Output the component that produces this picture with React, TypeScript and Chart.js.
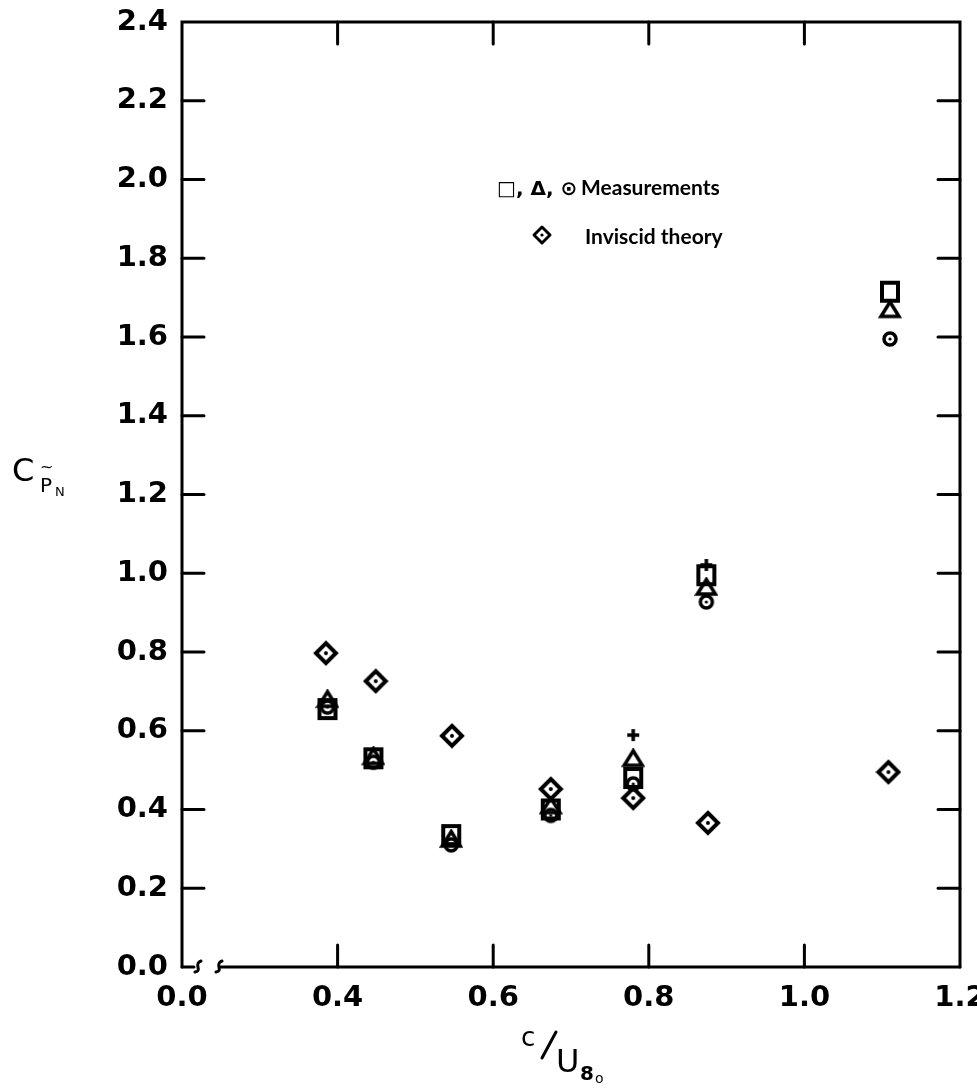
import React, { useEffect, useRef } from "react";
import { Chart, registerables } from "chart.js";
Chart.register(...registerables);

// ---- data ----
const xTickValues = [0.2, 0.4, 0.6, 0.8, 1.0, 1.2];
const xTickLabels = ["0.0", "0.4", "0.6", "0.8", "1.0", "1.2"];
const yTickValues = [0, 0.2, 0.4, 0.6, 0.8, 1.0, 1.2, 1.4, 1.6, 1.8, 2.0, 2.2, 2.4];
const yTickLabels = ["0.0", "0.2", "0.4", "0.6", "0.8", "1.0", "1.2", "1.4", "1.6", "1.8", "2.0", "2.2", "2.4"];

const measX = [0.387, 0.446, 0.546, 0.674, 0.78, 0.874, 1.11];
const squareY = [0.655, 0.53, 0.335, 0.4, 0.48, 0.995, 1.715];
const triangleY = [0.68, 0.535, 0.325, 0.41, 0.53, 0.965, 1.67];
const circleY = [0.66, 0.52, 0.31, 0.385, 0.465, 0.927, 1.595];

const inviscidX = [0.385, 0.449, 0.547, 0.674, 0.78, 0.876, 1.108];
const inviscidY = [0.797, 0.726, 0.587, 0.452, 0.429, 0.366, 0.495];

const plusX = [0.78, 0.874];
const plusY = [0.589, 1.021];

const legendMeasSymbols = "□, Δ, ⊙";
const legendMeas = "Measurements";
const legendInv = "Inviscid theory";

function makeMarker(kind: string): HTMLCanvasElement {
  const c = document.createElement("canvas");
  const ctx = c.getContext("2d")!;
  ctx.strokeStyle = "#000";
  ctx.fillStyle = "#000";
  ctx.lineJoin = "round";
  if (kind === "square") {
    c.width = 22; c.height = 24;
    ctx.lineWidth = 4;
    ctx.strokeRect(3, 3, 16, 18);
  } else if (kind === "triangle") {
    c.width = 24; c.height = 20;
    ctx.lineWidth = 3.5;
    ctx.beginPath();
    ctx.moveTo(12, 2.5); ctx.lineTo(21, 17); ctx.lineTo(3, 17); ctx.closePath();
    ctx.stroke();
  } else if (kind === "circle") {
    c.width = 18; c.height = 18;
    ctx.lineWidth = 3.5;
    ctx.beginPath(); ctx.arc(9, 9, 6, 0, Math.PI * 2); ctx.stroke();
    ctx.beginPath(); ctx.arc(9, 9, 1.6, 0, Math.PI * 2); ctx.fill();
  } else if (kind === "diamond") {
    c.width = 26; c.height = 26;
    ctx.lineWidth = 4;
    ctx.beginPath();
    ctx.moveTo(13, 3); ctx.lineTo(23, 13); ctx.lineTo(13, 23); ctx.lineTo(3, 13); ctx.closePath();
    ctx.stroke();
    ctx.beginPath(); ctx.arc(13, 13, 2, 0, Math.PI * 2); ctx.fill();
  } else if (kind === "plus") {
    c.width = 14; c.height = 14;
    ctx.lineWidth = 3.5;
    ctx.beginPath();
    ctx.moveTo(7, 1); ctx.lineTo(7, 13);
    ctx.moveTo(1, 7); ctx.lineTo(13, 7);
    ctx.stroke();
  }
  return c;
}

const framePlugin = {
  id: "frame",
  afterDatasetsDraw(chart: any) {
    const { ctx, chartArea } = chart;
    const { left, right, top, bottom } = chartArea;
    const xs = chart.scales.x;
    const ys = chart.scales.y;
    ctx.save();
    ctx.strokeStyle = "#000";
    ctx.lineWidth = 3;
    ctx.lineCap = "round";
    // top, right, left
    ctx.beginPath();
    ctx.moveTo(left, bottom);
    ctx.lineTo(left, top);
    ctx.lineTo(right, top);
    ctx.lineTo(right, bottom);
    ctx.stroke();
    // bottom with axis break
    ctx.beginPath();
    ctx.moveTo(left, bottom);
    ctx.lineTo(left + 12, bottom);
    ctx.stroke();
    const squig = (x: number) => {
      ctx.beginPath();
      ctx.moveTo(x, bottom + 5);
      ctx.bezierCurveTo(x + 8, bottom + 4, x - 2, bottom - 3, x + 6, bottom - 6);
      ctx.stroke();
    };
    squig(left + 13);
    squig(left + 34);
    ctx.beginPath();
    ctx.moveTo(left + 38, bottom);
    ctx.lineTo(right, bottom);
    ctx.stroke();
    // ticks
    const tl = 22;
    for (const v of yTickValues) {
      if (v === yTickValues[0] || v === yTickValues[yTickValues.length - 1]) continue;
      const py = ys.getPixelForValue(v);
      ctx.beginPath();
      ctx.moveTo(left, py); ctx.lineTo(left + tl, py);
      ctx.moveTo(right, py); ctx.lineTo(right - tl, py);
      ctx.stroke();
    }
    for (const v of xTickValues) {
      if (v === xTickValues[0] || v === xTickValues[xTickValues.length - 1]) continue;
      const px = xs.getPixelForValue(v);
      ctx.beginPath();
      ctx.moveTo(px, bottom); ctx.lineTo(px, bottom - tl);
      ctx.moveTo(px, top); ctx.lineTo(px, top + tl);
      ctx.stroke();
    }
    // legend
    ctx.fillStyle = "#000";
    ctx.textBaseline = "alphabetic";
    ctx.font = "bold 20px 'DejaVu Sans'";
    ctx.fillText(legendMeasSymbols, 497, 195);
    ctx.font = "bold 21px Lato";
    ctx.fillText(legendMeas, 581, 195);
    ctx.font = "bold 21px Lato";
    ctx.fillText(legendInv, 585, 244);
    // legend diamond
    ctx.lineWidth = 3;
    ctx.lineJoin = "round";
    ctx.beginPath();
    ctx.moveTo(542, 227); ctx.lineTo(550, 235); ctx.lineTo(542, 243); ctx.lineTo(534, 235); ctx.closePath();
    ctx.stroke();
    ctx.beginPath(); ctx.arc(542, 235, 1.6, 0, Math.PI * 2); ctx.fill();

    // y title: C with subscript P~N
    ctx.font = "32px 'DejaVu Sans'";
    ctx.fillText("C", 12, 481);
    ctx.font = "20px 'DejaVu Sans'";
    ctx.fillText("P", 40, 492);
    ctx.font = "16px 'DejaVu Sans'";
    ctx.fillText("~", 40, 472);
    ctx.font = "13px 'DejaVu Sans'";
    ctx.fillText("N", 55, 496);

    // x title: c/U 8o
    ctx.font = "26px 'DejaVu Sans'";
    ctx.fillText("c", 521, 1046);
    ctx.lineWidth = 3;
    ctx.beginPath(); ctx.moveTo(542, 1058); ctx.lineTo(556, 1032); ctx.stroke();
    ctx.font = "32px 'DejaVu Sans'";
    ctx.fillText("U", 556, 1072);
    ctx.font = "bold 20px 'DejaVu Sans'";
    ctx.fillText("8", 580, 1080);
    ctx.font = "14px 'DejaVu Sans'";
    ctx.fillText("o", 595, 1083);
    ctx.restore();
  },
};

export default function App() {
  const ref = useRef<HTMLCanvasElement | null>(null);
  useEffect(() => {
    document.body.style.margin = "0";
    const canvas = ref.current!;
    const toPts = (xs: number[], ys: number[]) => xs.map((x, i) => ({ x, y: ys[i] }));
    const chart = new Chart(canvas, {
      type: "scatter",
      data: {
        datasets: [
          { label: "circle", data: toPts(measX, circleY), pointStyle: makeMarker("circle") as any, pointRadius: 8 },
          { label: "triangle", data: toPts(measX, triangleY), pointStyle: makeMarker("triangle") as any, pointRadius: 8 },
          { label: "square", data: toPts(measX, squareY), pointStyle: makeMarker("square") as any, pointRadius: 8 },
          { label: "plus", data: toPts(plusX, plusY), pointStyle: makeMarker("plus") as any, pointRadius: 7 },
          { label: "Inviscid theory", data: toPts(inviscidX, inviscidY), pointStyle: makeMarker("diamond") as any, pointRadius: 11 },
        ],
      },
      options: {
        animation: false,
        responsive: false,
        devicePixelRatio: 1,
        layout: { padding: { left: 0, top: 22, right: 17, bottom: 0 } },
        plugins: { legend: { display: false }, tooltip: { enabled: false } },
        scales: {
          x: {
            type: "linear",
            min: 0.2,
            max: 1.2,
            grid: { display: false, drawTicks: false },
            border: { display: false },
            afterBuildTicks: (s: any) => { s.ticks = xTickValues.map((v) => ({ value: v })); },
            afterFit: (s: any) => { s.height = 121; s.paddingLeft = 0; s.paddingRight = 0; },
            ticks: {
              autoSkip: false, maxRotation: 0, minRotation: 0, padding: 14,
              color: "#000",
              font: { family: "'DejaVu Sans'", size: 29, weight: "bold" },
              callback: (v: any) => { const i = xTickValues.indexOf(Number(v)); return i >= 0 ? xTickLabels[i] : ""; },
            },
          },
          y: {
            type: "linear",
            min: 0,
            max: 2.4,
            grid: { display: false, drawTicks: false },
            border: { display: false },
            afterBuildTicks: (s: any) => { s.ticks = yTickValues.map((v) => ({ value: v })); },
            afterFit: (s: any) => { s.width = 182; s.paddingTop = 0; s.paddingBottom = 0; },
            ticks: {
              autoSkip: false, padding: 14,
              color: "#000",
              font: { family: "'DejaVu Sans'", size: 29, weight: "bold" },
              callback: (v: any) => { const i = yTickValues.findIndex((t) => Math.abs(t - Number(v)) < 1e-9); return i >= 0 ? yTickLabels[i] : ""; },
            },
          },
        },
      },
      plugins: [framePlugin],
    });
    return () => chart.destroy();
  }, []);
  return (
    <div style={{ width: 977, height: 1088, background: "#fff" }}>
      <canvas ref={ref} width={977} height={1088} style={{ display: "block", width: 977, height: 1088 }} />
    </div>
  );
}
